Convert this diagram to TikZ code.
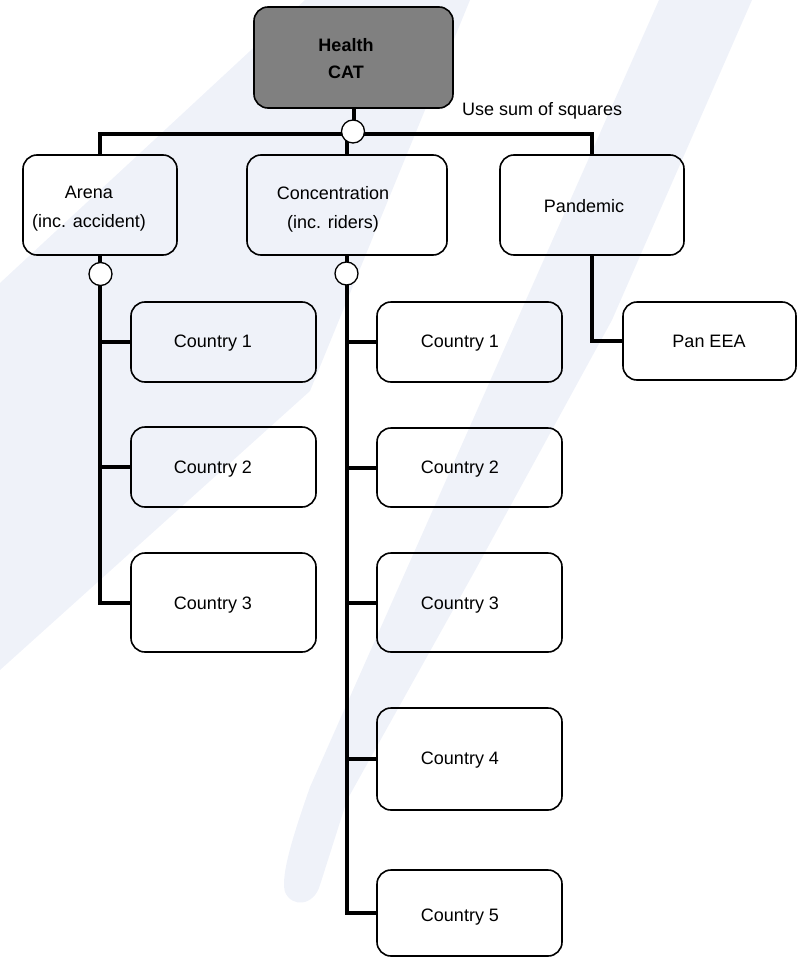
\documentclass[tikz,border=0pt]{standalone}
\usepackage{fontspec}
\setmainfont{Liberation Sans}
\definecolor{wmark}{RGB}{239,242,249}
\definecolor{topgray}{RGB}{128,128,128}
\begin{document}
\begin{tikzpicture}[x=1pt,y=-1pt,
  box/.style={draw=black, line width=1.6pt, rounded corners=14pt, inner sep=0pt},
  link/.style={line width=4pt, line join=miter},
  junc/.style={circle, draw=black, line width=1.3pt, fill=white, minimum size=23pt, inner sep=0pt},
  lbl/.style={font=\fontsize{18}{29}\selectfont, align=center, inner sep=0pt},
  blbl/.style={font=\fontsize{18}{27}\selectfont\bfseries, align=center, inner sep=0pt}]
\useasboundingbox (0,0) rectangle (798,958);
% watermark
\fill[wmark] (0,283) -- (305,0) -- (470,0) -- (310,391) -- (0,670) -- cycle;
\fill[wmark] (659,0) -- (310,787) .. controls (295,830) and (280,875) .. (285,892)
  .. controls (292,908) and (314,906) .. (320,885) -- (347,800) -- (477,567) -- (612,320) -- (752,0) -- cycle;
% boxes
\node[box, fill=topgray, minimum width=199pt, minimum height=101pt] (health) at (353.5,57.5) {};
\node[box, minimum width=154pt, minimum height=100pt] (arena) at (100,205) {};
\node[box, minimum width=200pt, minimum height=100pt] (conc) at (347,205) {};
\node[box, minimum width=184pt, minimum height=100pt] (pand) at (592,205) {};
\node[box, minimum width=185pt, minimum height=80pt] (ac1) at (223.5,342) {};
\node[box, minimum width=185pt, minimum height=80pt] (ac2) at (223.5,467) {};
\node[box, minimum width=185pt, minimum height=99pt] (ac3) at (223.5,602.5) {};
\node[box, minimum width=185pt, minimum height=80pt] (cc1) at (469.5,342) {};
\node[box, minimum width=185pt, minimum height=79pt] (cc2) at (469.5,467.5) {};
\node[box, minimum width=185pt, minimum height=99pt] (cc3) at (469.5,602.5) {};
\node[box, minimum width=185pt, minimum height=102pt] (cc4) at (469.5,759) {};
\node[box, minimum width=185pt, minimum height=86pt] (cc5) at (469.5,913) {};
\node[box, minimum width=173pt, minimum height=78pt] (pan) at (709.5,341) {};
% texts
\node[blbl] (health-t) at (346,58.4) {Health\\CAT};
\node[lbl, anchor=base west] (sumsq) at (462,115) {Use sum of squares};
\node[lbl] (arena-t) at (89,209) {Arena\\(inc. accident)};
\node[lbl] (conc-t) at (333,209) {Concentration\\(inc. riders)};
\node[lbl, anchor=base] (pand-t) at (584,212.5) {Pandemic};
\node[lbl, anchor=base] (ac1-t) at (213,347.5) {Country 1};
\node[lbl, anchor=base] (ac2-t) at (213,473.5) {Country 2};
\node[lbl, anchor=base] (ac3-t) at (213,609.5) {Country 3};
\node[lbl, anchor=base] (cc1-t) at (460,347.5) {Country 1};
\node[lbl, anchor=base] (cc2-t) at (460,473.5) {Country 2};
\node[lbl, anchor=base] (cc3-t) at (460,609.5) {Country 3};
\node[lbl, anchor=base] (cc4-t) at (460,764.5) {Country 4};
\node[lbl, anchor=base] (cc5-t) at (460,921) {Country 5};
\node[lbl, anchor=base] (pan-t) at (709,347.5) {Pan EEA};
% connectors
\draw[link] (health.south) -- ++(0,27);
\draw[link] (arena.north) -- ++(0,-20) -| (pand.north);
\draw[link] (conc.north) -- ++(0,-20);
\draw[link] (arena.south) |- (ac3.west);
\draw[link] (ac1.west -| arena.south) -- (ac1.west);
\draw[link] (ac2.west -| arena.south) -- (ac2.west);
\draw[link] (conc.south) |- (cc5.west);
\draw[link] (cc1.west -| conc.south) -- (cc1.west);
\draw[link] (cc2.west -| conc.south) -- (cc2.west);
\draw[link] (cc3.west -| conc.south) -- (cc3.west);
\draw[link] (cc4.west -| conc.south) -- (cc4.west);
\draw[link] (pand.south) |- (pan.west);
% junctions
\node[junc] (jroot) at (353,131.5) {};
\node[junc] (ja) at (100.5,274) {};
\node[junc] (jc) at (346.5,273.5) {};
\end{tikzpicture}
\end{document}
